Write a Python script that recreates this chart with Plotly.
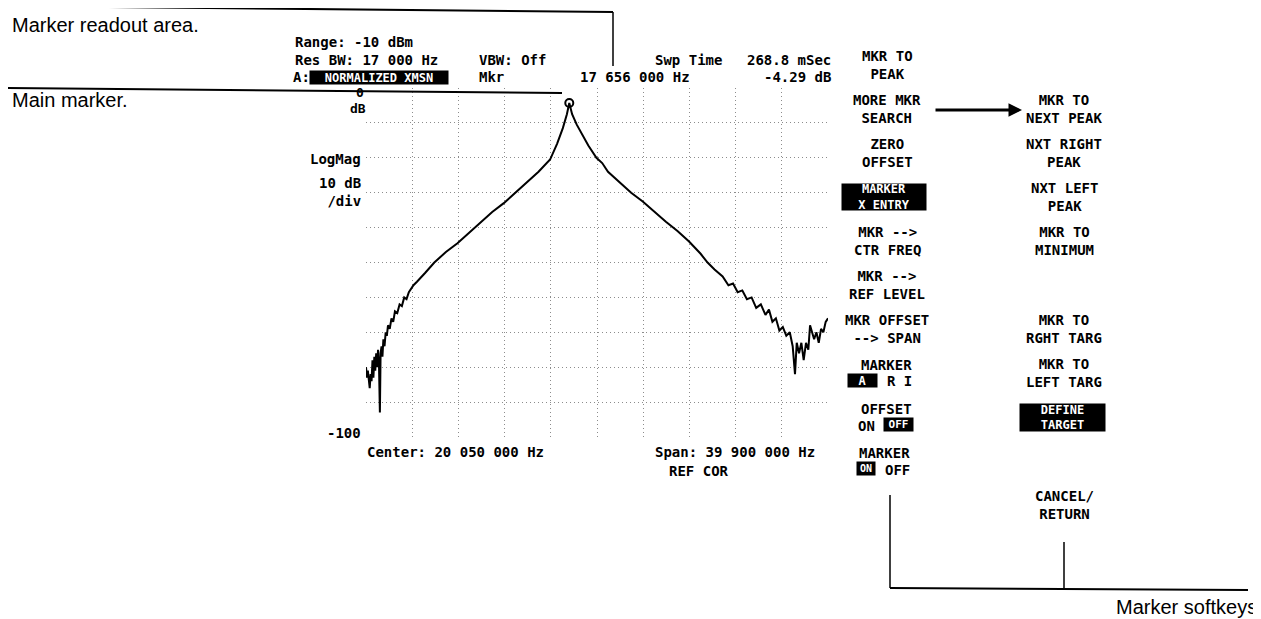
import plotly.graph_objects as go

# ---------------- data ----------------
freq_mhz = [0.10, 0.18, 0.26, 0.34, 0.42, 0.50, 0.58, 0.66, 0.74, 0.82, 0.90, 0.98, 1.06, 1.14,
            1.22, 1.30, 1.36, 1.44, 1.52, 1.60, 1.70, 1.80, 1.90, 2.00, 2.15, 2.30, 2.45, 2.60,
            2.80, 3.00, 3.20, 3.40, 3.60, 3.80, 4.00, 4.20, 4.50, 4.80, 5.20, 6.00, 7.00, 8.00,
            9.00, 10.0, 11.0, 12.0, 13.0, 14.0, 15.0, 16.0, 16.6, 17.1, 17.45, 17.656, 17.9,
            18.3, 18.8, 19.3, 20.0, 20.5, 21.0, 22.0, 23.0, 24.0, 25.0, 26.0, 27.0, 28.0, 29.0,
            29.6, 30.2, 30.9, 31.4, 31.8, 32.2, 32.6, 33.0, 33.4, 33.8, 34.2, 34.6, 34.9, 35.2,
            35.5, 35.8, 36.1, 36.4, 36.7, 36.95, 37.15, 37.3, 37.5, 37.7, 37.9, 38.1, 38.3,
            38.45, 38.6, 38.8, 39.0, 39.2, 39.4, 39.6, 39.8, 40.0]
level_db = [-80, -83, -81, -85, -86, -82, -84, -78, -83, -77, -81, -76, -80, -75,
            -79, -93, -76, -74, -77, -72, -74, -70, -71, -68, -69, -66, -67, -64,
            -64.5, -62, -62.5, -60, -60.5, -58.5, -57.5, -56.5, -55.5, -54.5, -53, -50, -47, -44.5,
            -41.5, -38.5, -35.5, -33, -30, -27, -24, -20.5, -16, -11.5, -7.5, -4.29, -7.5,
            -10.5, -13.5, -16.5, -20, -21.5, -24, -27, -30, -32.5, -35.5, -38.3, -41, -44, -47.5,
            -50, -52, -54, -56.5, -56, -58.5, -58, -60.5, -60, -63, -62, -65, -63.5, -67,
            -66, -69.5, -68.5, -71, -70, -74, -82, -73, -76, -73, -78, -73, -75,
            -68, -70, -72, -70, -73, -69, -70, -67, -66]

marker_freq = [17.656]
marker_db = [-4.29]

x_range = [0.1, 40.0]      # MHz (center 20.05, span 39.9)
y_range = [-100, 0]        # dB

# page is 1261x619; the page body has an 8px margin, so the figure is 1253x611
OFF = 8
FW, FH = 1261 - OFF, 619 - OFF
def px(x):
    return (x - OFF) / FW
def py(y):
    return 1 - (y - OFF) / FH

MONO = "DejaVu Sans Mono"
SANS = "Liberation Sans, Arial"

fig = go.Figure()
fig.add_trace(go.Scatter(x=freq_mhz, y=level_db, mode="lines",
                         line=dict(color="black", width=2), hoverinfo="skip"))
fig.add_trace(go.Scatter(x=marker_freq, y=marker_db, mode="markers",
                         marker=dict(symbol="circle-open", size=8, color="black",
                                     line=dict(width=2)), hoverinfo="skip"))

annotations = []
def txt(t, x, y, anchor="left", size=14, color="black", fam=MONO, weight="bold"):
    annotations.append(dict(text=t, x=px(x), y=py(y), xref="paper", yref="paper",
                            xanchor=anchor, yanchor="middle", align=anchor,
                            showarrow=False,
                            font=dict(family=fam, size=size, color=color, weight=weight)))

def box(t, cx, cy, w, h=13, size=12):
    annotations.append(dict(text=t, x=px(cx), y=py(cy), xref="paper", yref="paper",
                            xanchor="center", yanchor="middle", showarrow=False,
                            bgcolor="black", width=w, height=h, borderpad=0, align="center",
                            font=dict(family=MONO, size=size, color="white", weight="bold")))

# callout labels
txt("Marker readout area.", 10, 25, size=20, fam=SANS, weight="normal")
txt("Main marker.", 10, 100, size=20, fam=SANS, weight="normal")
txt("Marker softkeys", 1259, 607, anchor="right", size=20, fam=SANS, weight="normal")

# readout area
txt("Range: -10 dBm", 293, 42)
txt("Res BW: 17 000 Hz", 293, 60)
txt("VBW: Off", 477, 60)
txt("Swp Time", 653, 60)
txt("268.8 mSec", 833, 60, anchor="right")
txt("A:", 291, 77)
box("NORMALIZED XMSN", 379, 77, 138)
txt("Mkr", 477, 77)
txt("17 656 000 Hz", 578, 77)
txt("-4.29 dB", 833, 77, anchor="right")

# axis labels
txt("0", 360, 92, anchor="center", size=13)
txt("dB", 358, 108, anchor="center", size=13)
txt("LogMag", 363, 159, anchor="right")
txt("10 dB<br>/div", 363, 192, anchor="right")
txt("-100", 363, 433, anchor="right")
txt("Center: 20 050 000 Hz", 365, 452)
txt("Span: 39 900 000 Hz", 653, 452)
txt("REF COR", 667, 471)

# softkeys
C1, C2 = 887, 1064
def row(i):
    return 65 + 44 * i
col1 = {0: "MKR TO<br>PEAK", 1: "MORE MKR<br>SEARCH", 2: "ZERO<br>OFFSET",
        4: "MKR --><br>CTR FREQ", 5: "MKR --><br>REF LEVEL", 6: "MKR OFFSET<br>--> SPAN"}
for i, k in col1.items():
    txt(k, C1, row(i), anchor="center")
# highlighted softkeys
box("MARKER<br>X ENTRY", 883.5, row(3), 84, h=26)
txt("MARKER", 886, row(7) - 8.5, anchor="center")
box("A", 862.5, row(7) + 7, 29)
txt("R I", 899.5, row(7) + 8.5, anchor="center")
txt("OFFSET", 886, row(8) - 8.5, anchor="center")
txt("ON", 866.5, row(8) + 8.5, anchor="center")
box("OFF", 898.5, row(8) + 7, 29, size=11)
txt("MARKER", 884, row(9) - 8.5, anchor="center")
box("ON", 866, row(9) + 7, 18, size=10)
txt("OFF", 897.5, row(9) + 8.5, anchor="center")

col2 = {1: "MKR TO<br>NEXT PEAK", 2: "NXT RIGHT<br>PEAK", 3: "NXT LEFT<br>PEAK",
        4: "MKR TO<br>MINIMUM", 6: "MKR TO<br>RGHT TARG", 7: "MKR TO<br>LEFT TARG",
        10: "CANCEL/<br>RETURN"}
for i, k in col2.items():
    txt(k, C2, row(i), anchor="center")
box("DEFINE<br>TARGET", 1062.5, row(8), 85, h=27)

# arrow MORE MKR SEARCH -> MKR TO NEXT PEAK
annotations.append(dict(text="", x=px(1022), y=py(110), xref="paper", yref="paper",
                        ax=-88, ay=0, axref="pixel", ayref="pixel", showarrow=True,
                        arrowhead=2, arrowsize=0.9, arrowwidth=3, arrowcolor="black"))

# callout lines
shapes = []
def seg(x0, y0, x1, y1, w=2):
    shapes.append(dict(type="line", xref="paper", yref="paper",
                       x0=px(x0), y0=py(y0), x1=px(x1), y1=py(y1),
                       line=dict(color="black", width=w)))
seg(8, 6, 613, 12)
seg(613, 12, 613, 66, 1.5)
seg(8, 88, 562, 93)
seg(890, 495, 890, 588, 1.5)
seg(890, 588, 1248, 590)
seg(1064, 542, 1064, 588, 1.5)

fig.update_layout(
    width=FW, height=FH, margin=dict(l=0, r=0, t=0, b=0),
    paper_bgcolor="white", plot_bgcolor="white", showlegend=False,
    annotations=annotations, shapes=shapes,
    xaxis=dict(domain=[px(366), px(828)], range=x_range, tick0=0.1, dtick=3.99,
               showgrid=True, gridcolor="#8c8c8c", griddash="1px,3px", gridwidth=1,
               showticklabels=False, ticks="", zeroline=False, showline=False),
    yaxis=dict(domain=[py(437), py(88)], range=y_range, dtick=10,
               showgrid=True, gridcolor="#8c8c8c", griddash="1px,3px", gridwidth=1,
               showticklabels=False, ticks="", zeroline=False, showline=False),
)

fig.write_html("out.html")
